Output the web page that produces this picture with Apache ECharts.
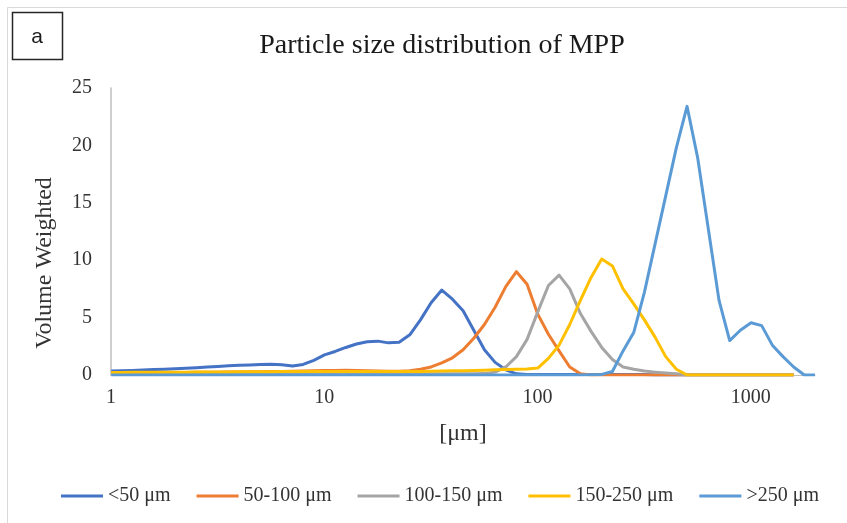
<!DOCTYPE html>
<html>
<head>
<meta charset="utf-8">
<title>Particle size distribution of MPP</title>
<script src="https://cdn.jsdelivr.net/npm/echarts@6/dist/echarts.min.js"></script>
<style>
  html, body { margin: 0; padding: 0; background: #fff; }
  #chart { width: 847px; height: 523px; }
</style>
</head>
<body>
<div id="chart"></div>
<script>
// Laser diffraction size classes [µm]
const sizes = [
  1.002, 1.125, 1.262, 1.416, 1.589, 1.783, 2.000, 2.244, 2.518, 2.825,
  3.170, 3.557, 3.991, 4.477, 5.024, 5.637, 6.325, 7.096, 7.962, 8.934,
  10.024, 11.247, 12.619, 14.159, 15.887, 17.825, 20.000, 22.440, 25.179, 28.251,
  31.698, 35.566, 39.905, 44.774, 50.238, 56.368, 63.246, 70.963, 79.621, 89.337,
  100.237, 112.468, 126.191, 141.589, 158.866, 178.250, 200.000, 224.404, 251.785, 282.508,
  316.979, 355.656, 399.052, 447.744, 502.377, 563.677, 632.456, 709.627, 796.214, 893.367,
  1002.374, 1124.683, 1261.915, 1415.892, 1588.656, 1782.502, 2000.000
];

// Volume weighted distribution of each sieve fraction
const under50 = [
  0.35, 0.37, 0.40, 0.43, 0.47, 0.51, 0.55, 0.59, 0.64, 0.70,
  0.75, 0.80, 0.84, 0.88, 0.91, 0.93, 0.90, 0.78, 0.92, 1.28,
  1.75, 2.05, 2.40, 2.70, 2.90, 2.95, 2.80, 2.85, 3.50, 4.80,
  6.30, 7.40, 6.60, 5.60, 3.90, 2.20, 1.10, 0.45, 0.10, 0.05,
  0.05, 0.05, 0.05, 0.05, 0.05, 0.05, 0.05, 0.05, 0.05, 0.05,
  0.05, 0, 0, 0, 0, 0, 0, 0, 0, 0,
  0, 0, 0, 0, 0
];
const from50to100 = [
  0.15, 0.16, 0.17, 0.18, 0.19, 0.20, 0.21, 0.22, 0.23, 0.24,
  0.25, 0.26, 0.27, 0.28, 0.29, 0.30, 0.31, 0.33, 0.35, 0.37,
  0.39, 0.40, 0.41, 0.40, 0.38, 0.35, 0.32, 0.32, 0.38, 0.50,
  0.70, 1.05, 1.50, 2.20, 3.20, 4.40, 5.90, 7.70, 9.00, 7.90,
  5.30, 3.55, 2.10, 0.70, 0.10, 0, 0, 0, 0, 0,
  0, 0, 0, 0, 0, 0, 0, 0, 0, 0,
  0, 0, 0, 0, 0
];
const from100to150 = [
  0.10, 0.10, 0.10, 0.10, 0.10, 0.10, 0.10, 0.10, 0.10, 0.10,
  0.10, 0.10, 0.10, 0.10, 0.10, 0.10, 0.10, 0.10, 0.10, 0.10,
  0.10, 0.10, 0.10, 0.10, 0.10, 0.10, 0.10, 0.10, 0.10, 0.10,
  0.10, 0.10, 0.10, 0.10, 0.10, 0.12, 0.25, 0.70, 1.60, 3.10,
  5.50, 7.80, 8.70, 7.50, 5.35, 3.80, 2.40, 1.35, 0.70, 0.50,
  0.35, 0.25, 0.17, 0.10, 0, 0, 0, 0, 0, 0,
  0, 0, 0, 0, 0
];
const from150to250 = [
  0.22, 0.22, 0.23, 0.23, 0.24, 0.24, 0.25, 0.25, 0.26, 0.26,
  0.27, 0.27, 0.28, 0.28, 0.29, 0.29, 0.30, 0.30, 0.30, 0.30,
  0.30, 0.30, 0.30, 0.30, 0.30, 0.30, 0.30, 0.30, 0.30, 0.30,
  0.32, 0.34, 0.36, 0.38, 0.40, 0.42, 0.45, 0.48, 0.50, 0.52,
  0.60, 1.45, 2.60, 4.40, 6.50, 8.50, 10.10, 9.50, 7.50, 6.20,
  4.80, 3.30, 1.60, 0.50, 0, 0, 0, 0, 0, 0,
  0, 0, 0, 0, 0
];
const over250 = [
  0, 0, 0, 0, 0, 0, 0, 0, 0, 0,
  0, 0, 0, 0, 0, 0, 0, 0, 0, 0,
  0, 0, 0, 0, 0, 0, 0, 0, 0, 0,
  0, 0, 0, 0, 0, 0, 0, 0, 0, 0,
  0, 0, 0, 0, 0, 0.02, 0.05, 0.30, 2.10, 3.70,
  7.20, 11.40, 15.60, 19.80, 23.40, 18.90, 12.70, 6.50, 3.00, 3.90,
  4.55, 4.30, 2.60, 1.60, 0.70, 0, 0
];

const seriesNames = ['<50 μm', '50-100 μm', '100-150 μm', '150-250 μm', '>250 μm'];
const seriesValues = [under50, from50to100, from100to150, from150to250, over250];
const seriesColors = ['#4472C4', '#ED7D31', '#A5A5A5', '#FFC000', '#5B9BD5'];
const xTickLabels = [1, 10, 100, 1000];

const serif = '"Liberation Serif", "Times New Roman", serif';

const chart = echarts.init(document.getElementById('chart'), null, { renderer: 'canvas' });

chart.setOption({
  animation: false,
  backgroundColor: '#fff',
  title: {
    text: 'Particle size distribution of MPP',
    left: 437,
    top: 27,
    textAlign: 'center',
    textStyle: { fontFamily: serif, fontSize: 28, fontWeight: 'normal', color: '#1a1a1a' }
  },
  graphic: [
    {
      type: 'rect',
      shape: { x: 7.5, y: 7.5, width: 850, height: 530 },
      style: { fill: 'none', stroke: '#d9d9d9', lineWidth: 1 },
      silent: true
    },
    {
      type: 'rect',
      shape: { x: 12.5, y: 12.5, width: 50, height: 47 },
      style: { fill: '#fff', stroke: '#262626', lineWidth: 1.5 },
      silent: true
    },
    {
      type: 'text',
      x: 37, y: 37,
      style: {
        text: 'a', fontFamily: '"Liberation Sans", Arial, sans-serif', fontSize: 21,
        fill: '#1a1a1a', align: 'center', verticalAlign: 'middle'
      },
      silent: true
    },
    {
      // vertical axis title
      type: 'text',
      x: 45, y: 263,
      rotation: Math.PI / 2,
      style: {
        text: 'Volume Weighted', fontFamily: serif, fontSize: 24,
        fill: '#333', align: 'center', verticalAlign: 'middle'
      },
      silent: true
    }
  ],
  legend: {
    data: seriesNames,
    left: 56,
    top: 481,
    icon: 'rect',
    itemWidth: 42,
    itemHeight: 3,
    itemGap: 26,
    textStyle: { fontFamily: serif, fontSize: 20, color: '#333' }
  },
  grid: { left: 111, right: 32, top: 88, bottom: 148, containLabel: false },
  xAxis: {
    type: 'log',
    logBase: 10,
    min: 1,
    max: 2000,
    name: '[μm]',
    nameLocation: 'middle',
    nameGap: 47,
    nameTextStyle: { fontFamily: serif, fontSize: 24, color: '#333' },
    axisLine: { show: true, lineStyle: { color: '#bfbfbf', width: 1 } },
    axisTick: { show: false },
    splitLine: { show: false },
    axisLabel: {
      fontFamily: serif, fontSize: 20, color: '#333', margin: 13,
      showMaxLabel: false,
      formatter: v => (xTickLabels.indexOf(Math.round(v)) >= 0 ? String(Math.round(v)) : '')
    }
  },
  yAxis: {
    type: 'value',
    min: 0,
    max: 25,
    interval: 5,
    axisLine: { show: true, lineStyle: { color: '#bfbfbf', width: 1.5 } },
    axisTick: { show: false },
    splitLine: { show: false },
    axisLabel: { fontFamily: serif, fontSize: 20, color: '#333', margin: 19 }
  },
  series: seriesNames.map((name, k) => ({
    name,
    type: 'line',
    showSymbol: false,
    symbol: 'none',
    smooth: false,
    clip: true,
    lineStyle: { color: seriesColors[k], width: 3, join: 'round' },
    itemStyle: { color: seriesColors[k] },
    data: seriesValues[k].map((v, i) => [sizes[i], v])
  }))
});
</script>
</body>
</html>
